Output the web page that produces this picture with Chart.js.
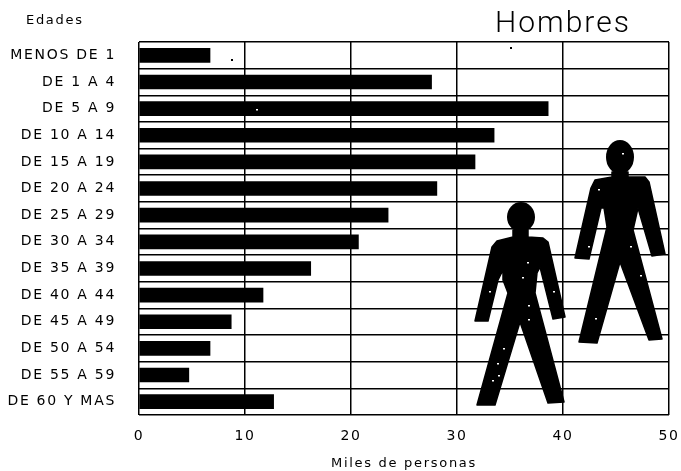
<!DOCTYPE html>
<html>
<head>
<meta charset="utf-8">
<style>html,body{margin:0;padding:0;background:#fff}canvas{display:block}</style>
<script src="https://cdn.jsdelivr.net/npm/chart.js@4"></script>
</head>
<body>
<canvas id="myChart" width="681" height="471"></canvas>
<script>
var categories = ["MENOS DE 1", "DE 1 A 4", "DE 5 A 9", "DE 10 A 14", "DE 15 A 19", "DE 20 A 24", "DE 25 A 29",
    "DE 30 A 34", "DE 35 A 39", "DE 40 A 44", "DE 45 A 49", "DE 50 A 54", "DE 55 A 59", "DE 60 Y MAS"];
var hombres = [6.7, 27.6, 38.6, 33.5, 31.7, 28.1, 23.5, 20.7, 16.2, 11.7, 8.7, 6.7, 4.7, 12.7];
var xTicks = [0, 10, 20, 30, 40, 50];

// silhouettes (px)
var bigMan = [[612,172],[612,177],[595,180],[591,188],[575,258],[589,259],[601,208],[604,208],[607,227],
    [579,342],[597,343],[620,262],[649,340],[662,339],[633,230],[638,208],[652,256],[665,254],[649,182],[645,177],[628,177],[628,172]];
var smallMan = [[513,230],[513,237],[497,241],[492,247],[475,321],[488,321],[498,280],[503,270],[503,280],[508,293],
    [477,405],[495,405],[520,322],[548,403],[564,402],[535,293],[537,273],[540,267],[553,319],[565,317],[548,242],[543,238],[528,237],[528,230]];
var heads = [[620,157,14,17],[521,217,14,15]];
// scan specks in the scanned original
var whiteSpecks = [[527,262],[522,277],[528,305],[489,291],[553,291],[503,348],[497,363],[492,380],[498,375],[528,319],
    [598,189],[588,246],[630,246],[640,275],[595,318],[622,153],[256,109]];
var blackSpecks = [[231,59],[510,47]];

var ink = 'rgb(0, 0, 0)';
var labelFont = { family: 'DejaVu Sans', size: 14 };

var decorPlugin = {
    id: 'decor',
    beforeDraw: function (chart) {
        chart.ctx.letterSpacing = '1.7px';
    },
    afterDatasetsDraw: function (chart) {
        var c = chart.ctx;
        c.save();
        c.fillStyle = ink;
        c.strokeStyle = ink;
        c.lineWidth = 1.5;
        c.lineJoin = 'round';
        [bigMan, smallMan].forEach(function (shape) {
            c.beginPath();
            shape.forEach(function (p, i) {
                if (i === 0) c.moveTo(p[0], p[1]); else c.lineTo(p[0], p[1]);
            });
            c.closePath();
            c.fill();
            c.stroke();
        });
        heads.forEach(function (h) {
            c.beginPath();
            c.ellipse(h[0], h[1], h[2], h[3], 0, 0, Math.PI * 2);
            c.fill();
        });
        blackSpecks.forEach(function (s) { c.fillRect(s[0], s[1], 2, 2); });
        c.fillStyle = '#fff';
        whiteSpecks.forEach(function (s) { c.fillRect(s[0], s[1], 2, 1.5); });
        c.fillStyle = ink;
        c.textBaseline = 'alphabetic';
        c.textAlign = 'left';
        c.letterSpacing = '1.7px';
        c.font = '13px "DejaVu Sans"';
        c.fillText('Edades', 26, 24);
        c.letterSpacing = '2px';
        c.font = '300 30px "Roboto"';
        c.fillText('Hombres', 495, 32);
        c.restore();
    }
};

var ctx = document.getElementById('myChart').getContext('2d');
var chart = new Chart(ctx, {
    type: 'bar',
    data: {
        labels: categories,
        datasets: [
            {
                label: "Hombres",
                backgroundColor: ink,
                data: hombres,
                barThickness: 14
            }
        ]
    },
    plugins: [decorPlugin],
    options: {
        indexAxis: 'y',
        responsive: false,
        animation: false,
        layout: { padding: { top: 42, right: 12, bottom: 0, left: 0 } },
        plugins: { legend: { display: false }, title: { display: false }, tooltip: { enabled: false } },
        scales: {
            y: {
                grid: { color: ink, lineWidth: 1.5, drawTicks: false },
                border: { display: false },
                ticks: { color: ink, font: labelFont, padding: 23, autoSkip: false },
                afterFit: function (scale) { scale.width = 139; }
            },
            x: {
                min: 0,
                max: 50,
                grid: { color: ink, lineWidth: 1.5, drawTicks: false },
                border: { display: false },
                afterBuildTicks: function (scale) {
                    scale.ticks = xTicks.map(function (v) { return { value: v }; });
                },
                ticks: { color: ink, font: labelFont, padding: 13, maxRotation: 0 },
                title: { display: true, text: 'Miles de personas', color: ink, font: { family: 'DejaVu Sans', size: 13 }, padding: { top: 6, bottom: 0 } },
                afterFit: function (scale) { scale.height = 56; scale.paddingRight = 0; scale.paddingLeft = 0; }
            }
        }
    }
});
</script>
</body>
</html>
